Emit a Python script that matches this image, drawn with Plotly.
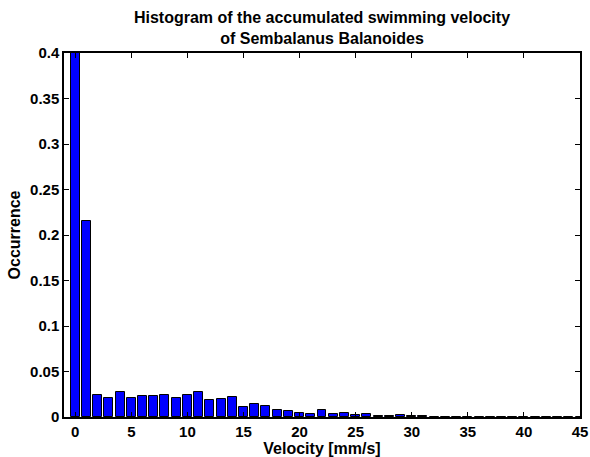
import plotly.graph_objects as go

velocity = list(range(0, 46))
occurrence = [0.52, 0.215, 0.0244, 0.021, 0.0274, 0.021, 0.0233, 0.023, 0.024, 0.021,
              0.024, 0.0274, 0.0185, 0.020, 0.022, 0.0107, 0.0144, 0.012, 0.0078, 0.0063,
              0.0044, 0.003, 0.0078, 0.003, 0.004, 0.002, 0.003, 0.0007, 0.0007, 0.002,
              0.0007, 0.0007, 0.0005, 0.0003, 0.0005, 0.0003, 0.0003, 0.0005, 0.0003, 0.0003,
              0.0003, 0.0005, 0.0005, 0.0003, 0.0003, 0.0005]

x_ticks = [0, 5, 10, 15, 20, 25, 30, 35, 40, 45]
y_ticks = [0, 0.05, 0.1, 0.15, 0.2, 0.25, 0.3, 0.35, 0.4]
y_tick_labels = ["0", "0.05", "0.1", "0.15", "0.2", "0.25", "0.3", "0.35", "0.4"]

FAM = "Liberation Sans, Arial, sans-serif"

fig = go.Figure(go.Bar(
    x=velocity, y=occurrence, width=0.8,
    marker=dict(color="#0000ff", line=dict(color="black", width=1)),
))

axis_common = dict(
    showline=True, linecolor="black", linewidth=1.5, mirror="ticks",
    ticks="inside", ticklen=5, tickcolor="black", tickwidth=1,
    showgrid=False, zeroline=False, automargin=False,
    tickfont=dict(family=FAM, size=15, color="black", weight="bold"),
)

fig.update_layout(
    width=590, height=457,
    margin=dict(l=64, r=10, t=53, b=40, autoexpand=False),
    paper_bgcolor="white", plot_bgcolor="white",
    font=dict(family=FAM, size=15, color="black"),
    showlegend=False,
    bargap=0,
    title=dict(
        text="<b>Histogram of the accumulated swimming velocity<br>of Sembalanus Balanoides</b>",
        x=(64 + 580) / 2 / 590, xanchor="center", y=1 - 23 / 457, yanchor="top",
        font=dict(family=FAM, size=16, color="black"),
        automargin=False,
    ),
    xaxis=dict(
        range=[-1, 45], tickvals=x_ticks,
        title=dict(text="<b>Velocity [mm/s]</b>", standoff=0,
                   font=dict(family=FAM, size=16, color="black")),
        **axis_common,
    ),
    yaxis=dict(
        range=[0, 0.4], tickvals=y_ticks, ticktext=y_tick_labels,
        title=dict(text="<b>Occurrence</b>", standoff=5,
                   font=dict(family=FAM, size=16, color="black")),
        **axis_common,
    ),
)

fig.write_html("out.html", config={"displayModeBar": False},
               post_script="document.body.style.margin='0';document.body.style.overflow='hidden';")
